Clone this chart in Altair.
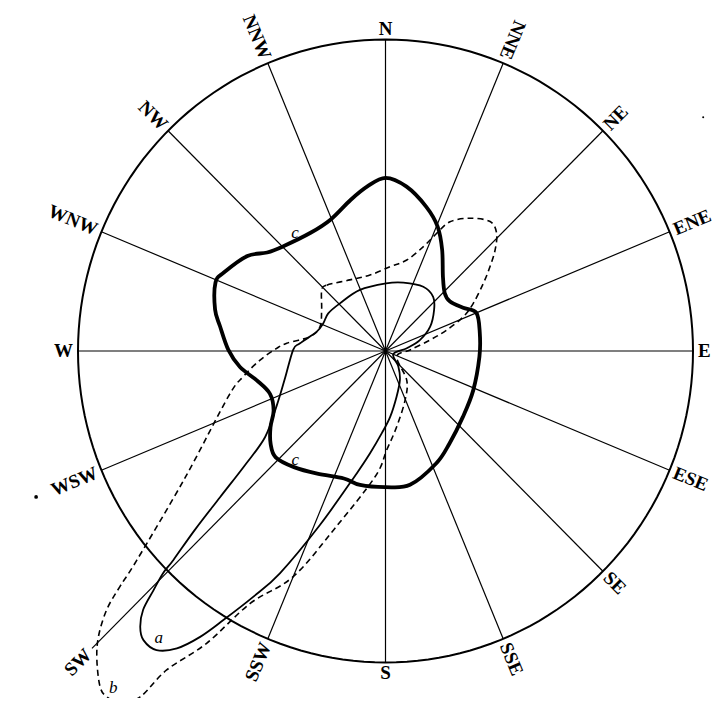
import altair as alt
import pandas as pd

# ---- compass directions ----
dir_names = ["N", "NNE", "NE", "ENE", "E", "ESE", "SE", "SSE",
             "S", "SSW", "SW", "WSW", "W", "WNW", "NW", "NNW"]
dir_bearings = [0, 22.5, 45, 67.5, 90, 112.5, 135, 157.5,
                180, 202.5, 225, 247.5, 270, 292.5, 315, 337.5]

# ---- curve c (thick) : bearing (deg) / radius (fraction of circle) ----
c_bearing = [0, 7.4, 15.9, 23.0, 29.5, 37.9, 45.9, 52.6, 61.2, 67.5, 79.4, 93.5,
             113.9, 130.2, 145.1, 155.5, 169.5, 180, 190.9, 198.3, 209.4, 218.6,
             226.3, 231.4, 236.8, 242.3, 249.9, 257.3, 263.8, 270.4, 278.4, 283.5,
             291.7, 295.6, 304.2, 309.4, 315.6, 327.3, 337.0, 346.8, 353.5]
c_radius = [0.556, 0.532, 0.482, 0.434, 0.374, 0.304, 0.268, 0.263, 0.288, 0.320, 0.312, 0.306,
            0.312, 0.329, 0.363, 0.397, 0.437, 0.437, 0.438, 0.431, 0.452, 0.477,
            0.494, 0.478, 0.447, 0.411, 0.400, 0.429, 0.476, 0.511, 0.544, 0.570,
            0.595, 0.583, 0.543, 0.498, 0.472, 0.451, 0.458, 0.498, 0.531]

# ---- curve a (thin solid) ----
a_bearing = [0.5, 14.8, 30.8, 41.7, 50.1, 61.7, 72.6, 82.6, 111.8, 140, 153.2, 166.2,
             175.9, 182.6, 188.7, 193.4, 200.9, 205.7, 208.6, 211.4, 213.3, 215.4,
             217.8, 220.3, 222.0, 223.5, 224.5, 225.4, 225.8, 227.2, 228.9, 231.3,
             234.8, 243.9, 255.1, 270.9, 275.1, 285.5, 293.8, 303.0, 315.9, 337.0]
a_radius = [0.217, 0.227, 0.240, 0.233, 0.206, 0.165, 0.117, 0.070, 0.027, 0.065, 0.104, 0.151,
            0.212, 0.264, 0.332, 0.404, 0.598, 0.792, 0.899, 1.012, 1.098, 1.171,
            1.215, 1.217, 1.192, 1.145, 1.076, 1.016, 0.962, 0.845, 0.714, 0.585,
            0.479, 0.393, 0.338, 0.300, 0.279, 0.232, 0.221, 0.222, 0.213, 0.213]

# ---- curve b (dashed) ----
b_bearing = [313.3, 317.9, 333.1, 348.3, 3.1, 13.3, 20.2, 23.8, 26.8, 32.8, 39.3, 43.7,
             47.7, 51.5, 55.7, 61.8, 66.5, 71.3, 76.3, 87.7, 116.7, 143.5, 158.0, 171.5,
             179.3, 184.8, 196.1, 202.5, 208.5, 211.8, 214.8, 215.7, 217.4, 219.2, 220.7,
             223.4, 225.5, 227.5, 228.8, 230.3, 238.0, 254.0, 259.9, 265.9, 271.4, 274.4,
             280.6, 290.1, 302.4]
b_radius = [0.285, 0.285, 0.256, 0.249, 0.271, 0.300, 0.357, 0.413, 0.465, 0.507, 0.537, 0.523,
            0.482, 0.434, 0.385, 0.324, 0.276, 0.210, 0.149, 0.080, 0.041, 0.116, 0.170, 0.246,
            0.318, 0.405, 0.592, 0.784, 0.922, 1.104, 1.247, 1.367, 1.422, 1.433, 1.423,
            1.366, 1.309, 1.230, 1.148, 1.051, 0.769, 0.532, 0.470, 0.409, 0.354, 0.322,
            0.250, 0.227, 0.246]

# ---- curve letters ----
letter_text = ["a", "b", "c", "c"]
letter_bearing = [218.7, 219.3, 322.1, 220.0]
letter_radius = [1.18, 1.398, 0.479, 0.457]

# ---- stray printer's dots ----
dot_bearing = [247.6, 54.0]
dot_radius = [1.229, 1.277]
dot_weight = [14, 4]

# ---------------------------------------------------------------
W, H = 705, 690
XS, YS = 307.5, 311.5          # pixels per unit radius
xmin = -377.5 / XS
xmax = xmin + W / XS
ymax = 343.0 / YS
ymin = ymax - H / YS

xsc = alt.Scale(domain=[xmin, xmax], nice=False, zero=False)
ysc = alt.Scale(domain=[ymin, ymax], nice=False, zero=False)
X = lambda f: alt.X(f, type="quantitative", scale=xsc, axis=None)
Y = lambda f: alt.Y(f, type="quantitative", scale=ysc, axis=None)

polar_x = "datum.r * sin(datum.b * PI / 180)"
polar_y = "datum.r * cos(datum.b * PI / 180)"


def curve_df(bs, rs):
    return pd.DataFrame({"b": bs, "r": rs, "i": list(range(len(bs)))})


# outer circle
circle = alt.Chart(alt.sequence(0, 362, 2, as_="b")).transform_calculate(
    r="1", x=polar_x, y=polar_y
).mark_line(color="black", strokeWidth=2.0).encode(
    x=X("x"), y=Y("y"), order=alt.Order("b:Q")
)

dirs = pd.DataFrame({"name": dir_names, "b": dir_bearings})
# the SW spoke runs out past the rim to its label
dirs["len"] = [1.35 if n == "SW" else 1.0 for n in dir_names]

spokes = alt.Chart(dirs).transform_calculate(
    x0="0", y0="0",
    x1="datum.len * sin(datum.b * PI / 180)", y1="datum.len * cos(datum.b * PI / 180)"
).mark_rule(color="black", strokeWidth=1.2).encode(
    x=X("x0"), y=Y("y0"), x2="x1:Q", y2="y1:Q"
)

curve_c = alt.Chart(curve_df(c_bearing, c_radius)).transform_calculate(
    x=polar_x, y=polar_y
).mark_line(color="black", strokeWidth=3.8, interpolate="cardinal-closed").encode(
    x=X("x"), y=Y("y"), order=alt.Order("i:Q")
)

curve_a = alt.Chart(curve_df(a_bearing, a_radius)).transform_calculate(
    x=polar_x, y=polar_y
).mark_line(color="black", strokeWidth=1.8, interpolate="cardinal-closed").encode(
    x=X("x"), y=Y("y"), order=alt.Order("i:Q")
)

curve_b = alt.Chart(curve_df(b_bearing, b_radius)).transform_calculate(
    x=polar_x, y=polar_y
).mark_line(color="black", strokeWidth=1.6, strokeDash=[6, 4],
            interpolate="cardinal-closed").encode(
    x=X("x"), y=Y("y"), order=alt.Order("i:Q")
)


# direction labels
def label_angle(name, b):
    if name in ("N", "S", "E", "W"):
        return 0.0
    if name == "NNE":
        return (b + 90) % 360
    if b < 180:
        return (b - 90) % 360
    return (b - 270) % 360


lab = dirs.copy()
lab["angle"] = [label_angle(n, b) for n, b in zip(lab["name"], lab["b"])]
lab["r"] = [l + (0.006 if n == "S" else 0.016) for n, l in zip(lab["name"], lab["len"])]
right_side = ["NE", "ENE", "E", "ESE", "SE", "SSE"]
left_side = ["NNE", "SSW", "SW", "WSW", "W", "WNW", "NW", "NNW"]

font = "Liberation Serif"


def label_layer(names, align, baseline):
    return alt.Chart(lab[lab["name"].isin(names)]).transform_calculate(
        x=polar_x, y=polar_y
    ).mark_text(align=align, baseline=baseline, font=font, fontSize=19,
                fontWeight="bold", color="black").encode(
        x=X("x"), y=Y("y"), text="name:N", angle=alt.Angle("angle:Q", scale=None)
    )


lab_right = label_layer(right_side, "left", "middle")
lab_left = label_layer(left_side, "right", "middle")
lab_n = label_layer(["N"], "center", "alphabetic")
lab_s = label_layer(["S"], "center", "top")

letters = alt.Chart(pd.DataFrame({"t": letter_text, "b": letter_bearing, "r": letter_radius})
                    ).transform_calculate(x=polar_x, y=polar_y).mark_text(
    font=font, fontSize=17, fontStyle="italic", align="center", baseline="middle",
    color="black").encode(x=X("x"), y=Y("y"), text="t:N")

dot = alt.Chart(pd.DataFrame({"b": dot_bearing, "r": dot_radius, "w": dot_weight})
                ).transform_calculate(x=polar_x, y=polar_y).mark_point(
    filled=True, color="black", opacity=1).encode(
    x=X("x"), y=Y("y"), size=alt.Size("w:Q", scale=None, legend=None))

chart = alt.layer(circle, spokes, curve_c, curve_a, curve_b,
                  lab_right, lab_left, lab_n, lab_s, letters, dot).properties(
    width=W, height=H, padding=0, autosize=alt.AutoSizeParams(type="none"),
    background="white"
).configure_view(stroke=None)

chart.save("out.html", embed_options={"renderer": "svg", "actions": False})
